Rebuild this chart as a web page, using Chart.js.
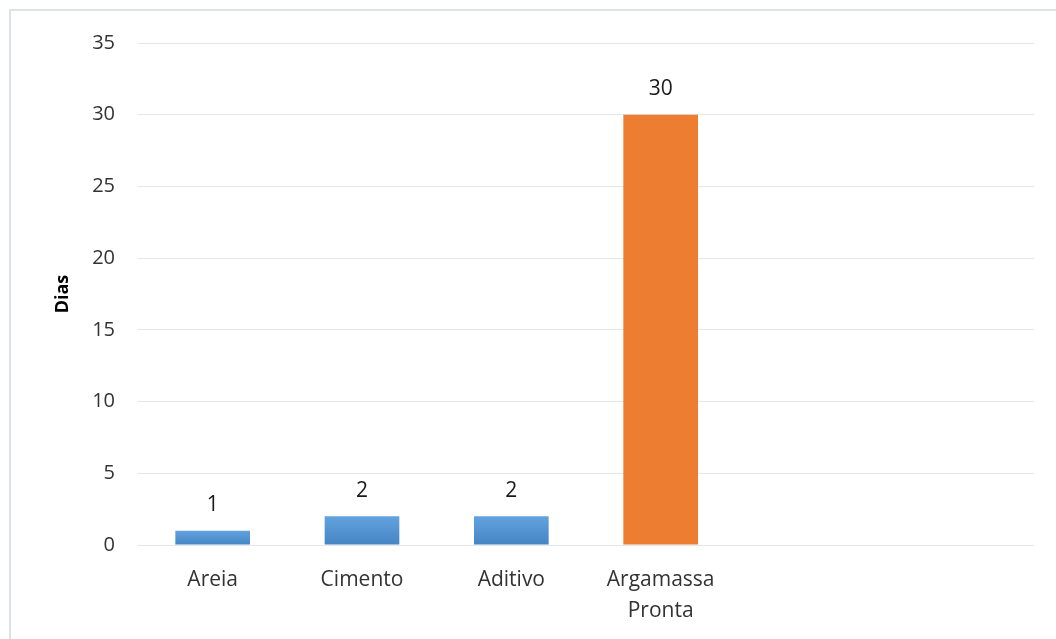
<!DOCTYPE html>
<html>
<head>
<meta charset="utf-8">
<script src="https://cdn.jsdelivr.net/npm/chart.js@4"></script>
<style>
  body { margin:0; background:#fff; }
  #frame { position:absolute; left:9px; top:9px; width:1047px; height:630px;
           border-top:2px solid #dde2e8; border-left:2px solid #dde2e8; box-sizing:border-box; }
  #wrap { position:absolute; left:0; top:0; width:1056px; height:639px; }
</style>
</head>
<body>
<div id="frame"></div>
<div id="wrap"><canvas id="grafico"></canvas></div>
<script>
const categorias = ['Areia', 'Cimento', 'Aditivo', ['Argamassa', 'Pronta'], '', '']
const dias = [1, 2, 2, 30, null, null]
const cores = ['blue', 'blue', 'blue', 'orange', 'blue', 'blue']
const yTicks = [0, 5, 10, 15, 20, 25, 30, 35]

const fonte = "'Open Sans', sans-serif"

const corBarra = c => {
  const i = c.dataIndex
  if (cores[i] === 'orange') return '#ed7d31'
  const chart = c.chart
  if (!chart.chartArea || !chart.scales.y || dias[i] == null) return '#5595d3'
  const y = chart.scales.y
  const top = y.getPixelForValue(dias[i]), base = y.getPixelForValue(0)
  if (!isFinite(top) || !isFinite(base) || top === base) return '#5595d3'
  const g = chart.ctx.createLinearGradient(0, top, 0, base)
  g.addColorStop(0, '#62a3de')
  g.addColorStop(1, '#4684c4')
  return g
}

// rotulos de valor em cima das barras
const rotulos = {
  id: 'rotulos',
  afterDatasetsDraw(chart) {
    const ctx = chart.ctx
    const meta = chart.getDatasetMeta(0)
    ctx.save()
    ctx.font = '21px ' + fonte
    ctx.fillStyle = '#1a1a1a'
    ctx.textAlign = 'center'
    ctx.textBaseline = 'bottom'
    meta.data.forEach((bar, i) => {
      if (dias[i] == null) return
      ctx.fillText(String(dias[i]), bar.x, bar.y - 15)
    })
    ctx.restore()
  }
}

var ctx = document.getElementById('grafico').getContext('2d')
new Chart(ctx, {
  type: 'bar',
  data: {
    labels: categorias,
    datasets: [{
      label: 'Dias',
      data: dias,
      backgroundColor: corBarra,
      categoryPercentage: 1,
      barPercentage: 0.5
    }]
  },
  plugins: [rotulos],
  options: {
    responsive: true,
    maintainAspectRatio: false,
    animation: false,
    layout: { padding: { top: 43, right: 22, left: 48, bottom: 0 } },
    plugins: {
      legend: { display: false },
      tooltip: { enabled: false }
    },
    scales: {
      x: {
        grid: { display: false, drawTicks: false },
        border: { display: false },
        ticks: { color: '#333', font: { family: fonte, size: 21, lineHeight: 1.5 }, padding: 19, maxRotation: 0 },
        afterFit: s => { s.height = 94 }
      },
      y: {
        min: 0,
        max: 35,
        afterBuildTicks: s => { s.ticks = yTicks.map(v => ({ value: v })) },
        grid: { color: '#e3e6eb', lineWidth: 1, drawTicks: false },
        border: { display: false },
        ticks: { color: '#333', font: { family: fonte, size: 20 }, padding: 23 },
        title: { display: true, text: 'Dias', color: '#000', font: { family: fonte, size: 18, weight: 'bold' } },
        afterFit: s => { s.width = 90 }
      }
    }
  }
})
</script>
</body>
</html>
